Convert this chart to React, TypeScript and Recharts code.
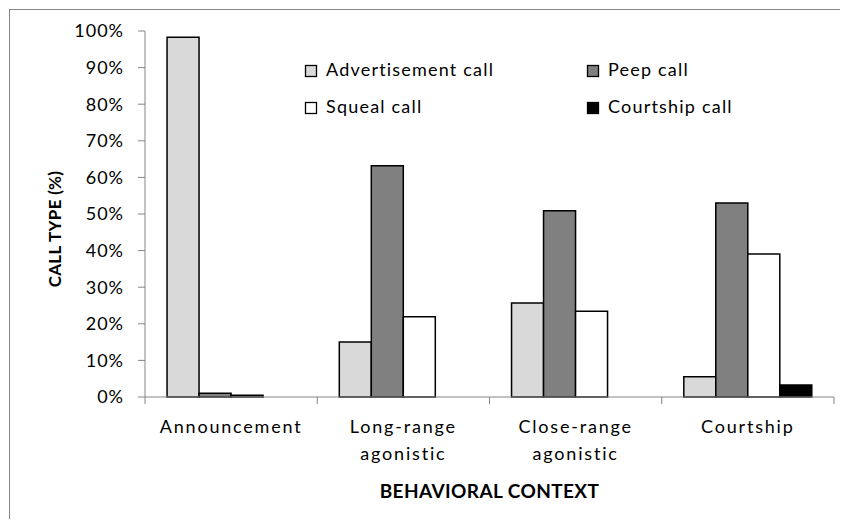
import { BarChart, Bar, XAxis, YAxis } from "recharts";

const CONTEXTS = ["Announcement", "Long-range agonistic", "Close-range agonistic", "Courtship"];
const CONTEXT_LINES = [["Announcement"], ["Long-range", "agonistic"], ["Close-range", "agonistic"], ["Courtship"]];
const ADVERTISEMENT = [98.3, 15.0, 25.7, 5.5];
const PEEP = [1.0, 63.2, 50.9, 53.0];
const SQUEAL = [0.5, 21.9, 23.4, 39.1];
const COURTSHIP = [0, 0, 0, 3.3];
const Y_TICKS = [0, 10, 20, 30, 40, 50, 60, 70, 80, 90, 100];

const SERIES = [
  { key: "advertisement", name: "Advertisement call", fill: "#d9d9d9" },
  { key: "peep", name: "Peep call", fill: "#808080" },
  { key: "squeal", name: "Squeal call", fill: "#ffffff" },
  { key: "courtship", name: "Courtship call", fill: "#000000" },
];

const data = CONTEXTS.map((context, i) => ({
  context,
  advertisement: ADVERTISEMENT[i],
  peep: PEEP[i],
  squeal: SQUEAL[i],
  courtship: COURTSHIP[i],
}));

const FONT = "Lato, 'Open Sans', sans-serif";
const AXIS = "#868686";

function CategoryTick(props: any) {
  const { x, y, payload, index } = props;
  const half = payload.offset ?? 0;
  const lines = CONTEXT_LINES[index] ?? [String(payload.value)];
  return (
    <g>
      <line x1={x - half} x2={x - half} y1={y - 8} y2={y - 1} stroke={AXIS} />
      {index === CONTEXTS.length - 1 && (
        <line x1={x + half} x2={x + half} y1={y - 8} y2={y - 1} stroke={AXIS} />
      )}
      <text
        x={x}
        y={y}
        textAnchor="middle"
        fontFamily={FONT}
        fontSize={18}
        letterSpacing={1.8}
        fill="#000"
      >
        {lines.map((line, i) => (
          <tspan key={i} x={x} dy={i === 0 ? 28 : 27}>
            {line}
          </tspan>
        ))}
      </text>
    </g>
  );
}

// legend + axis titles drawn over the chart
function Overlay() {
  const cols = [305, 587];
  const rows = [65, 102];
  return (
    <svg
      width={848}
      height={527}
      style={{ position: "absolute", left: 0, top: 0, pointerEvents: "none" }}
    >
      {SERIES.map((s, i) => {
        const x = cols[i % 2];
        const y = rows[Math.floor(i / 2)];
        return (
          <g key={s.key}>
            <rect x={x + 0.5} y={y + 0.5} width={11} height={11} fill={s.fill} stroke="#000" strokeWidth={1.3} />
            <text
              x={x + 21}
              y={y + 11}
              fontFamily={FONT}
              fontSize={18}
              letterSpacing={1.2}
              fill="#000"
            >
              {s.name}
            </text>
          </g>
        );
      })}
      <text
        x={489.5}
        y={498}
        textAnchor="middle"
        fontFamily={FONT}
        fontWeight={700}
        fontSize={19}
        letterSpacing={0.4}
        fill="#000"
      >
        BEHAVIORAL CONTEXT
      </text>
      <text
        x={0}
        y={0}
        transform="translate(54 229) rotate(-90)"
        textAnchor="middle"
        dominantBaseline="central"
        fontFamily={FONT}
        fontWeight={700}
        fontSize={17}
        letterSpacing={0.3}
        fill="#000"
      >
        CALL TYPE (%)
      </text>
    </svg>
  );
}

export default function App() {
  return (
    <div style={{ position: "relative", width: 848, height: 527, margin: -8, overflow: "hidden", background: "#fff" }}>
      <div
        style={{
          position: "absolute",
          left: 9,
          top: 9,
          width: 900,
          height: 600,
          border: `1px solid ${AXIS}`,
        }}
      />
      <div style={{ position: "absolute", left: 0, top: 0 }}>
        <BarChart
          width={848}
          height={527}
          data={data}
          margin={{ top: 31, right: 14, left: 0, bottom: 70 }}
          barCategoryGap="12.8%"
          barGap={0}
        >
          <XAxis
            dataKey="context"
            height={60}
            stroke={AXIS}
            tickLine={false}
            tick={<CategoryTick />}
            interval={0}
          />
          <YAxis
            width={145}
            domain={[0, 100]}
            ticks={Y_TICKS}
            stroke={AXIS}
            tickSize={7}
            tickMargin={14}
            tickFormatter={(v: number) => `${v}%`}
            tick={{ fill: "#000", fontFamily: FONT, fontSize: 18, letterSpacing: 1 }}
          />
          {SERIES.map((s) => (
            <Bar
              key={s.key}
              dataKey={s.key}
              name={s.name}
              fill={s.fill}
              stroke="#000"
              strokeWidth={1.5}
              isAnimationActive={false}
            />
          ))}
        </BarChart>
      </div>
      <Overlay />
    </div>
  );
}
